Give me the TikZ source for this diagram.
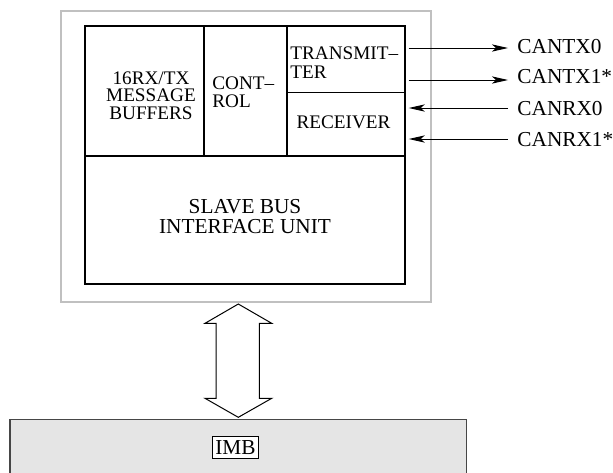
\documentclass[tikz,border=0pt]{standalone}
\usepackage{fontspec}
\setmainfont{Liberation Serif}
\usetikzlibrary{fit,arrows.meta}
\definecolor{framegray}{RGB}{192,192,192}
\definecolor{busfill}{RGB}{229,229,229}
\definecolor{busline}{RGB}{70,70,70}
\begin{document}
\begin{tikzpicture}[x=0.5pt,y=-0.5pt,
  cell/.style={draw, line width=0.7pt, inner sep=0pt},
  frame/.style={draw=framegray, line width=1pt, inner sep=0pt},
  smalltxt/.style={inner sep=0pt, font=\fontsize{9.6pt}{8.6pt}\selectfont},
  bigtxt/.style={inner sep=0pt, font=\fontsize{10.65pt}{10pt}\selectfont},
  sig/.style={line width=0.5pt, -{Stealth[length=8pt,width=3.6pt,inset=2pt]}},
  busbox/.style={draw=busline, fill=busfill, line width=0.7pt, inner sep=0pt},
  tag/.style={draw, line width=0.5pt, fill=white, inner xsep=1.3pt, inner ysep=2.2pt, font=\fontsize{10.65pt}{10pt}\selectfont},
  dblarrow/.style={draw, line width=0.5pt, fill=white}
]
\useasboundingbox (0,0) rectangle (613,472);
\clip (0,0) rectangle (613,472);
% frames
\node[frame, fit={(61,11) (431,302)}] (outer) {};
\node[cell, fit={(85,26) (204,156)}] (buf) {};
\node[cell, fit={(204,26) (287,156)}] (ctl) {};
\node[cell, fit={(287,26) (405,92.5)}] (tx) {};
\node[cell, fit={(287,92.5) (405,156)}] (rx) {};
\node[cell, fit={(85,156) (405,284)}] (sbiu) {};
% texts (base anchor = baseline of last line)
\node[smalltxt, align=center, anchor=base] (buft) at (151,119) {16RX/TX\\MESSAGE\\BUFFERS};
\node[smalltxt, align=left, anchor=base west, font=\fontsize{9.6pt}{9pt}\selectfont] (ctlt) at (212,107) {CONT–\\ROL};
\node[smalltxt, align=left, anchor=base west, font=\fontsize{9.6pt}{9.5pt}\selectfont] (txt) at (290,78) {TRANSMIT–\\TER};
\node[smalltxt, anchor=base] (rxt) at (343.5,128) {RECEIVER};
\node[bigtxt, align=center, anchor=base] (sbiut) at (245,233.3) {SLAVE BUS\\INTERFACE UNIT};
% signals
\node[bigtxt, anchor=base west] (ltx0) at (517,53) {CANTX0};
\node[bigtxt, anchor=base west] (ltx1) at (517,83) {CANTX1*};
\node[bigtxt, anchor=base west] (lrx0) at (517,115) {CANRX0};
\node[bigtxt, anchor=base west] (lrx1) at (517,146) {CANRX1*};
\coordinate (etx0) at (508,48);
\coordinate (etx1) at (508,80);
\coordinate (erx0) at (508,108);
\coordinate (erx1) at (508,139);
\draw[sig] ([xshift=1.5pt]tx.east |- etx0) -- (etx0);
\draw[sig] ([xshift=1.5pt]tx.east |- etx1) -- (etx1);
\draw[sig] (erx0) -- ([xshift=1.5pt]rx.east |- erx0);
\draw[sig] (erx1) -- ([xshift=1.5pt]rx.east |- erx1);
% bus
\node[busbox, fit={(10,419.5) (466.7,490)}] (imb) {};
\node[tag] (imbt) at (235.5,447.5) {IMB};
% double arrow
\draw[dblarrow] (238.3,304) -- (271.7,323.3) -- (259.3,323.3) -- (259.3,398.3) -- (271.7,398.3) -- (238.3,417.3) -- (205,398.3) -- (216,398.3) -- (216,323.3) -- (205,323.3) -- cycle;
\end{tikzpicture}
\end{document}
